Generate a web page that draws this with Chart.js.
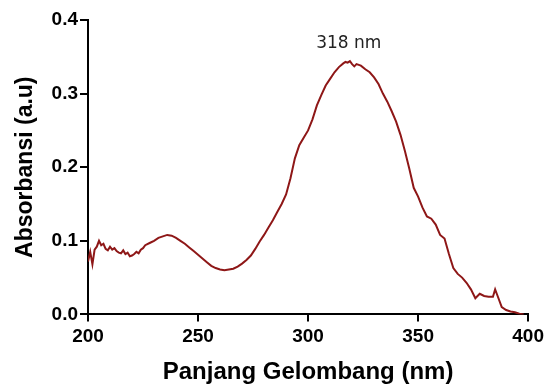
<!DOCTYPE html>
<html>
<head>
<meta charset="utf-8">
<script src="https://cdn.jsdelivr.net/npm/chart.js@4"></script>
<style>
  html, body { margin: 0; padding: 0; background: #fff; }
  #wrap { width: 548px; height: 389px; }
</style>
</head>
<body>
<div id="wrap"><canvas id="chart"></canvas></div>
<script>
'use strict';

// wavelengths (nm) and absorbance
const wavelengths = [200, 201, 202, 203, 204, 205, 206, 207, 208, 209, 210, 211, 212, 213, 214, 215, 216, 217, 218, 219,
    220, 221, 222, 223, 224, 225, 226, 228, 230, 232, 234, 236, 238, 240, 242, 244, 246, 248, 250, 252,
    254, 256, 258, 260, 262, 264, 266, 268, 270, 272, 274, 276, 278, 280, 282, 284, 286, 288, 290, 292,
    294, 296, 298, 300, 302, 304, 306, 308, 310, 312, 314, 316, 317, 318, 319, 320, 321, 322, 324, 326,
    328, 330, 332, 334, 336, 338, 340, 342, 344, 346, 348, 350, 352, 354, 356, 358, 360, 362, 364, 366,
    368, 370, 372, 374, 376, 378, 380, 382, 384, 385, 386, 388, 390, 392, 394, 396, 398];
const absorbance = [0.072, 0.085, 0.068, 0.088, 0.092, 0.100, 0.094, 0.096, 0.089, 0.087, 0.092, 0.088, 0.090, 0.086, 0.084, 0.083, 0.087, 0.082, 0.084, 0.079,
    0.080, 0.082, 0.085, 0.083, 0.088, 0.090, 0.094, 0.097, 0.100, 0.104, 0.106, 0.108, 0.107, 0.104, 0.100, 0.096, 0.091, 0.086, 0.081, 0.076,
    0.071, 0.066, 0.063, 0.061, 0.060, 0.061, 0.062, 0.065, 0.069, 0.074, 0.080, 0.089, 0.099, 0.108, 0.118, 0.128, 0.139, 0.150, 0.163, 0.185,
    0.212, 0.230, 0.240, 0.250, 0.265, 0.284, 0.298, 0.311, 0.320, 0.329, 0.336, 0.341, 0.343, 0.342, 0.344, 0.340, 0.337, 0.340, 0.338, 0.333,
    0.329, 0.322, 0.313, 0.300, 0.289, 0.276, 0.262, 0.244, 0.222, 0.198, 0.172, 0.160, 0.145, 0.133, 0.130, 0.122, 0.108, 0.103, 0.082, 0.063,
    0.055, 0.050, 0.043, 0.034, 0.022, 0.028, 0.025, 0.024, 0.024, 0.034, 0.026, 0.010, 0.006, 0.004, 0.003, 0.001, 0.000];

const xTicks = [200, 250, 300, 350, 400];
const yTicks = [0.0, 0.1, 0.2, 0.3, 0.4];
const peakLabel = '318 nm';
const peakX = 318.5;
const peakY = 0.368;

const FONT = "Arial, 'Liberation Sans', sans-serif";

const points = wavelengths.map((w, i) => ({ x: w, y: absorbance[i] }));

// text label above the peak
const peakLabelPlugin = {
    id: 'peakLabel',
    afterDatasetsDraw(chart) {
        const ctx = chart.ctx;
        const x = chart.scales.x.getPixelForValue(peakX);
        const y = chart.scales.y.getPixelForValue(peakY);
        ctx.save();
        ctx.font = "17px 'DejaVu Sans', sans-serif";
        ctx.fillStyle = '#222';
        ctx.textAlign = 'center';
        ctx.textBaseline = 'middle';
        ctx.fillText(peakLabel, x, y);
        ctx.restore();
    }
};

new Chart(document.getElementById('chart'), {
    type: 'line',
    data: {
        datasets: [{
            data: points,
            borderColor: '#8e1717',
            borderWidth: 2,
            pointRadius: 0,
            tension: 0,
            fill: false
        }]
    },
    options: {
        responsive: true,
        maintainAspectRatio: false,
        animation: false,
        layout: { padding: { left: 12, right: 19, top: 20, bottom: 2 } },
        plugins: {
            legend: { display: false },
            tooltip: { enabled: false }
        },
        scales: {
            x: {
                type: 'linear',
                min: 200,
                max: 400,
                afterBuildTicks: (axis) => { axis.ticks = xTicks.map(v => ({ value: v })); },
                ticks: {
                    color: '#000',
                    font: { family: FONT, size: 19, weight: 'bold' },
                    padding: 4,
                    maxRotation: 0
                },
                grid: { drawOnChartArea: false, drawTicks: true, tickLength: 7, color: '#000', lineWidth: 2 },
                border: { color: '#000', width: 2 },
                title: {
                    display: true,
                    text: 'Panjang Gelombang (nm)',
                    color: '#000',
                    font: { family: FONT, size: 24, weight: 'bold' },
                    padding: { top: 6, bottom: 0 }
                }
            },
            y: {
                min: 0,
                max: 0.4,
                afterBuildTicks: (axis) => { axis.ticks = yTicks.map(v => ({ value: v })); },
                ticks: {
                    color: '#000',
                    font: { family: FONT, size: 19, weight: 'bold' },
                    padding: 2,
                    callback: (v) => Number(v).toFixed(1)
                },
                grid: { drawOnChartArea: false, drawTicks: true, tickLength: 8, color: '#000', lineWidth: 2 },
                border: { color: '#000', width: 2 },
                title: {
                    display: true,
                    text: 'Absorbansi (a.u)',
                    color: '#000',
                    font: { family: FONT, size: 23, weight: 'bold' },
                    padding: { top: 0, bottom: 10 }
                }
            }
        }
    },
    plugins: [peakLabelPlugin]
});
</script>
</body>
</html>
